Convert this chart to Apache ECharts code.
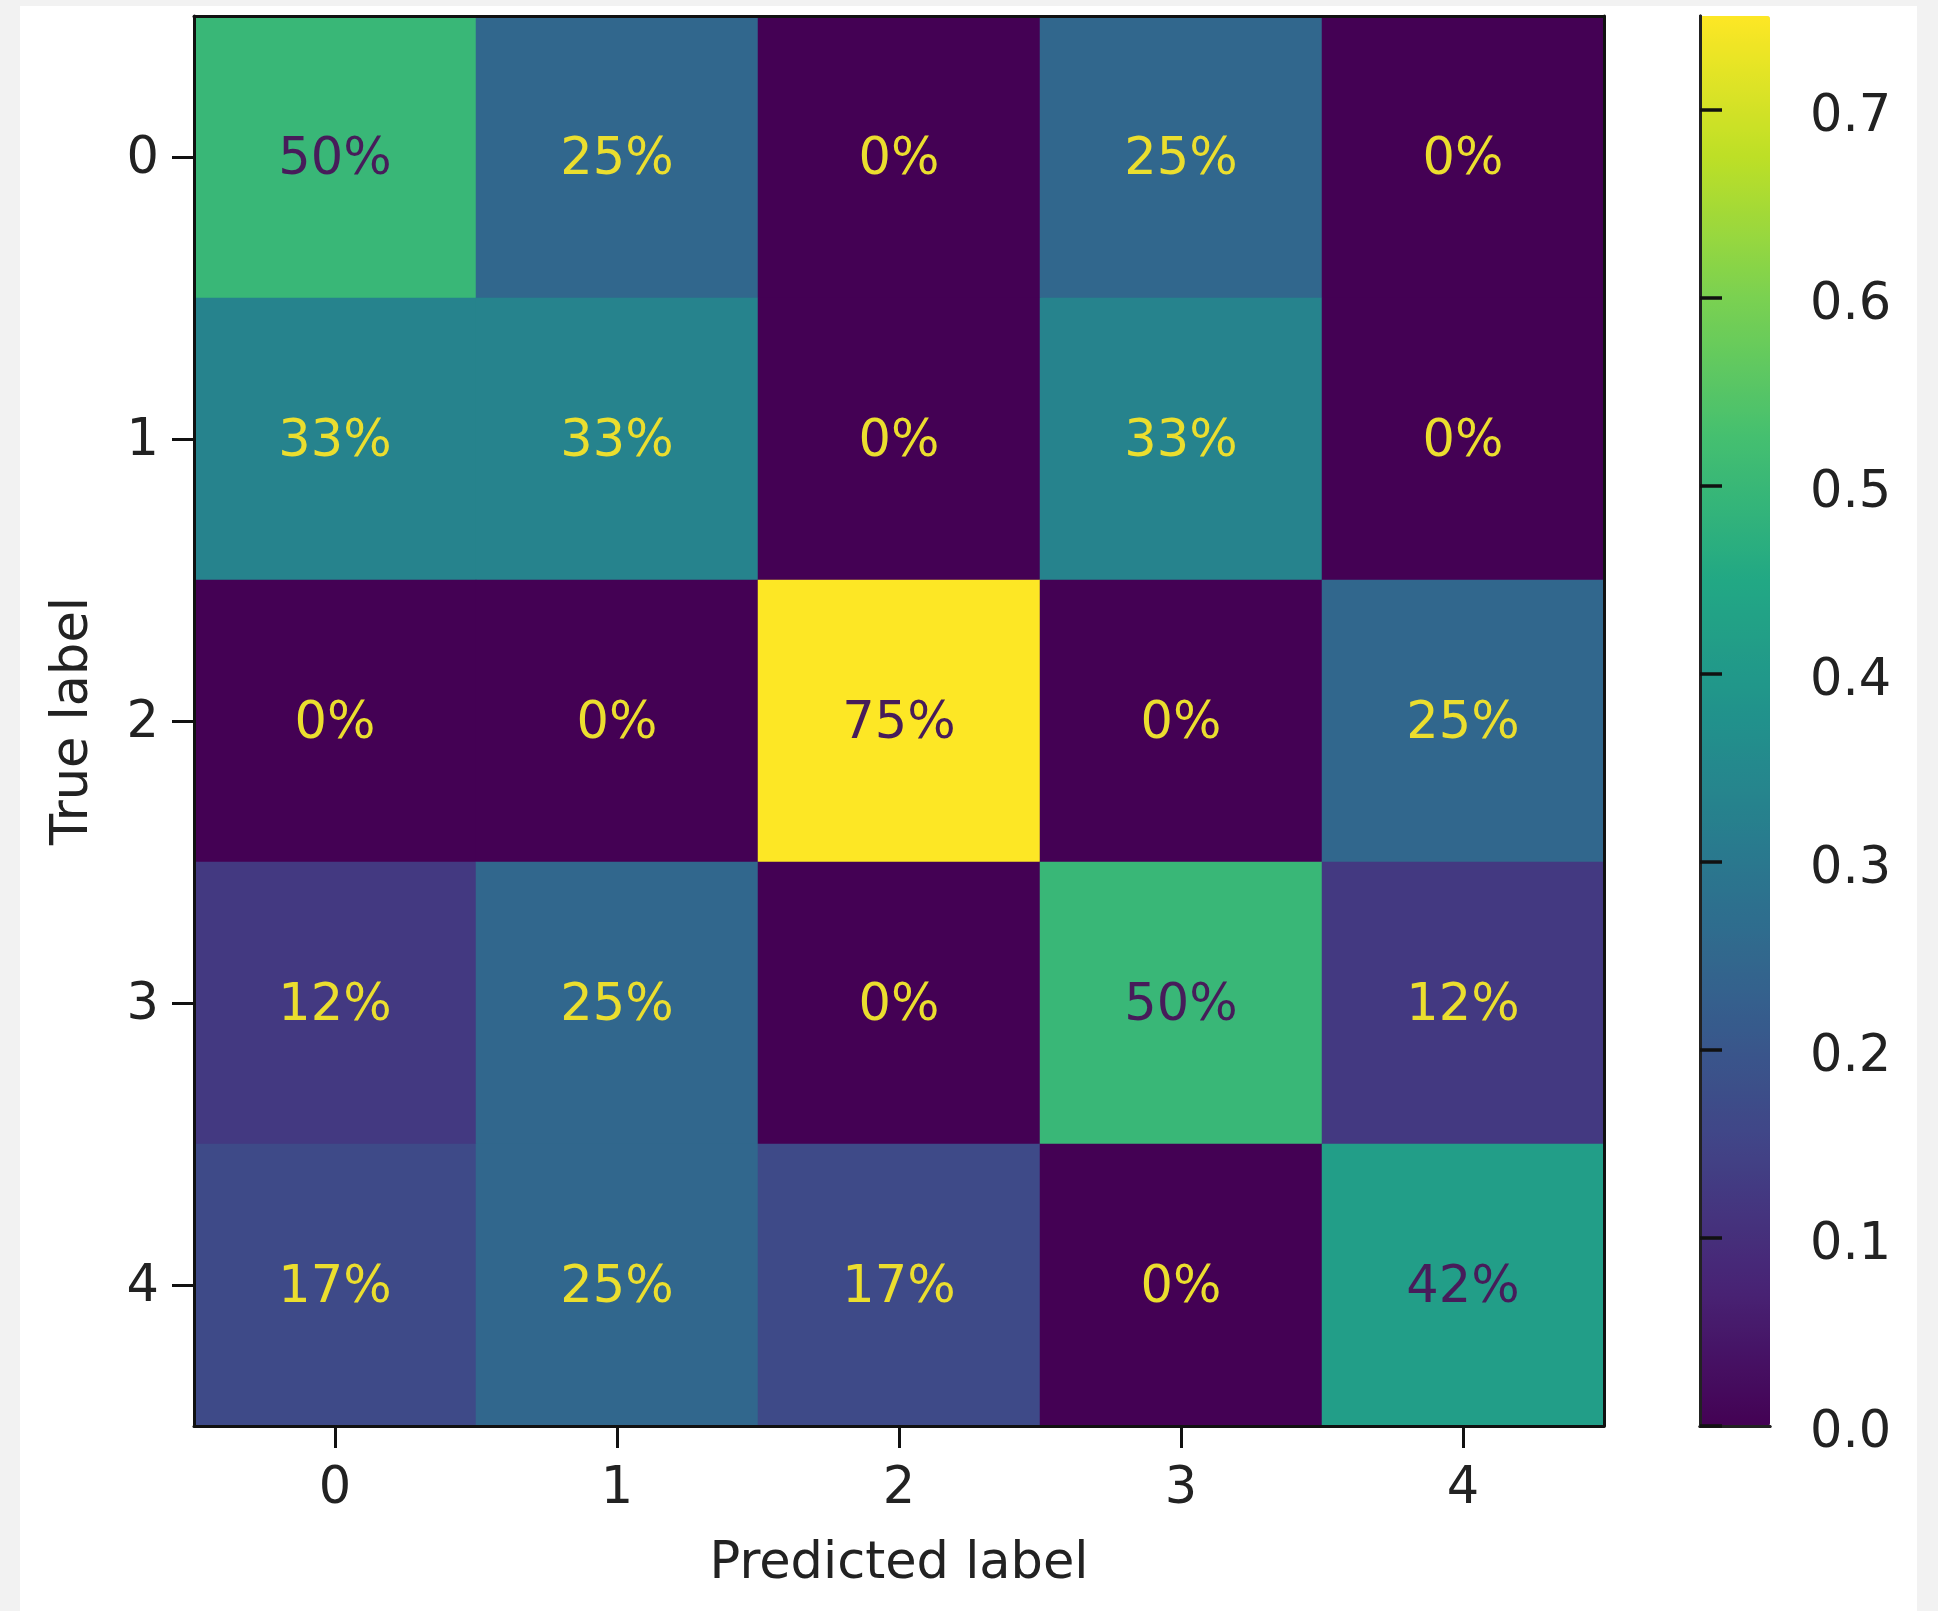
<!DOCTYPE html>
<html>
<head>
<meta charset="utf-8">
<script src="https://cdn.jsdelivr.net/npm/echarts@6/dist/echarts.min.js"></script>
<style>
html,body{margin:0;padding:0;background:#f2f2f2;}
#wrap{position:relative;width:1938px;height:1611px;background:#f2f2f2;overflow:hidden;}
#panel{position:absolute;left:20px;top:6px;width:1897px;height:1605px;background:#ffffff;}
#chart{position:absolute;left:0;top:0;width:1938px;height:1611px;}
</style>
</head>
<body>
<div id="wrap"><div id="panel"></div><div id="chart"></div></div>
<script>
// ---- data ----
const predictedLabels = ['0', '1', '2', '3', '4'];
const trueLabels = ['0', '1', '2', '3', '4'];
const row0 = [0.5, 0.25, 0, 0.25, 0];
const row1 = [0.333, 0.333, 0, 0.333, 0];
const row2 = [0, 0, 0.75, 0, 0.25];
const row3 = [0.125, 0.25, 0, 0.5, 0.125];
const row4 = [0.167, 0.25, 0.167, 0, 0.417];
const rows = [row0, row1, row2, row3, row4];
const colorbarTicks = [0, 0.1, 0.2, 0.3, 0.4, 0.5, 0.6, 0.7];
const colorMin = 0;
const colorMax = 0.75;
const viridis = ['#440154','#482475','#414487','#355f8d','#2a788e','#21918c','#22a884','#44bf70','#7ad151','#bddf26','#fde725'];

// ---- helpers ----
function pct(v) {
  const x = v * 100;
  const f = Math.floor(x);
  let r;
  if (Math.abs(x - f - 0.5) < 1e-9) r = (f % 2 === 0) ? f : f + 1;
  else r = Math.round(x);
  return r + '%';
}
const threshold = (colorMin + colorMax) / 2;
const data = [];
rows.forEach((row, yi) => {
  row.forEach((v, xi) => {
    data.push({
      value: [xi, yi, v],
      label: { color: v > threshold ? '#471c5a' : '#ebde2e' }
    });
  });
});

const FONT = 'DejaVu Sans';
const FS = 51;
const TXT = '#222222';
const LINE = '#111111';

const chart = echarts.init(document.getElementById('chart'), null, { renderer: 'canvas' });
const option = {
  backgroundColor: 'transparent',
  animation: false,
  textStyle: { fontFamily: FONT },
  grid: [
    { left: 194, top: 16, width: 1410, height: 1410, containLabel: false },
    { left: 1700, top: 16, width: 70, height: 1410, containLabel: false }
  ],
  xAxis: [
    {
      type: 'category', gridIndex: 0, data: predictedLabels, position: 'bottom', z: 10,
      axisLine: { show: true, lineStyle: { color: LINE, width: 3 } },
      axisTick: { show: true, alignWithLabel: true, length: 22, lineStyle: { color: LINE, width: 3 } },
      axisLabel: { margin: 38, fontSize: FS, color: TXT, fontFamily: FONT },
      splitLine: { show: false },
      name: 'Predicted label', nameLocation: 'middle', nameGap: 113,
      nameTextStyle: { fontSize: FS, color: TXT, fontFamily: FONT }
    },
    {
      type: 'category', gridIndex: 0, data: predictedLabels, position: 'top', z: 10,
      axisLine: { show: true, lineStyle: { color: LINE, width: 3 } },
      axisTick: { show: false }, axisLabel: { show: false }, splitLine: { show: false }
    },
    {
      type: 'value', gridIndex: 1, min: 0, max: 1, position: 'bottom', z: 10,
      axisLine: { show: true, lineStyle: { color: '#222', width: 3 } },
      axisTick: { show: false }, axisLabel: { show: false }, splitLine: { show: false }
    },
    {
      type: 'value', gridIndex: 1, min: 0, max: 1, position: 'top', z: 10,
      axisLine: { show: true, lineStyle: { color: '#222', width: 3 } },
      axisTick: { show: false }, axisLabel: { show: false }, splitLine: { show: false }
    }
  ],
  yAxis: [
    {
      type: 'category', gridIndex: 0, data: trueLabels, inverse: true, position: 'left', z: 10,
      axisLine: { show: true, lineStyle: { color: LINE, width: 3 } },
      axisTick: { show: true, alignWithLabel: true, length: 22, lineStyle: { color: LINE, width: 3 } },
      axisLabel: { margin: 35, fontSize: FS, color: TXT, fontFamily: FONT,
        formatter: v => '{a|' + v + '}',
        rich: { a: { fontSize: FS, color: TXT, fontFamily: FONT, padding: [6, 0, 0, 0] } } },
      splitLine: { show: false },
      name: 'True label', nameLocation: 'middle', nameGap: 95, nameRotate: 90,
      nameTextStyle: { fontSize: FS, color: TXT, fontFamily: FONT }
    },
    {
      type: 'category', gridIndex: 0, data: trueLabels, inverse: true, position: 'right', z: 10,
      axisLine: { show: true, lineStyle: { color: LINE, width: 3 } },
      axisTick: { show: false }, axisLabel: { show: false }, splitLine: { show: false }
    },
    {
      type: 'value', gridIndex: 1, min: colorMin, max: colorMax, position: 'right', z: 10,
      axisLine: { show: true, lineStyle: { color: '#222', width: 3 } },
      axisTick: { show: true, length: 22, customValues: colorbarTicks, lineStyle: { color: LINE, width: 3.5 } },
      axisLabel: { show: true, margin: 40, fontSize: FS, color: TXT, fontFamily: FONT,
        customValues: colorbarTicks, formatter: v => '{a|' + Number(v).toFixed(1) + '}',
        rich: { a: { fontSize: FS, color: TXT, fontFamily: FONT, padding: [16, 0, 0, 0] } } },
      splitLine: { show: false }
    },
    {
      type: 'value', gridIndex: 1, min: colorMin, max: colorMax, position: 'left', z: 10,
      axisLine: { show: true, lineStyle: { color: '#222', width: 3 } },
      axisTick: { show: false }, axisLabel: { show: false }, splitLine: { show: false }
    }
  ],
  visualMap: {
    type: 'continuous', min: colorMin, max: colorMax, seriesIndex: 0,
    calculable: false, show: true, orient: 'vertical',
    left: 1700, top: 16, itemWidth: 70, itemHeight: 1410, padding: 0,
    text: null, showLabel: false, hoverLink: false,
    inRange: { color: viridis }
  },
  series: [{
    type: 'heatmap', xAxisIndex: 0, yAxisIndex: 0, data: data,
    itemStyle: { borderWidth: 0 },
    label: { show: true, fontSize: FS, fontFamily: FONT, offset: [0, 4], formatter: p => pct(p.value[2]) },
    emphasis: { disabled: true }
  }]
};
chart.setOption(option);
</script>
</body>
</html>
